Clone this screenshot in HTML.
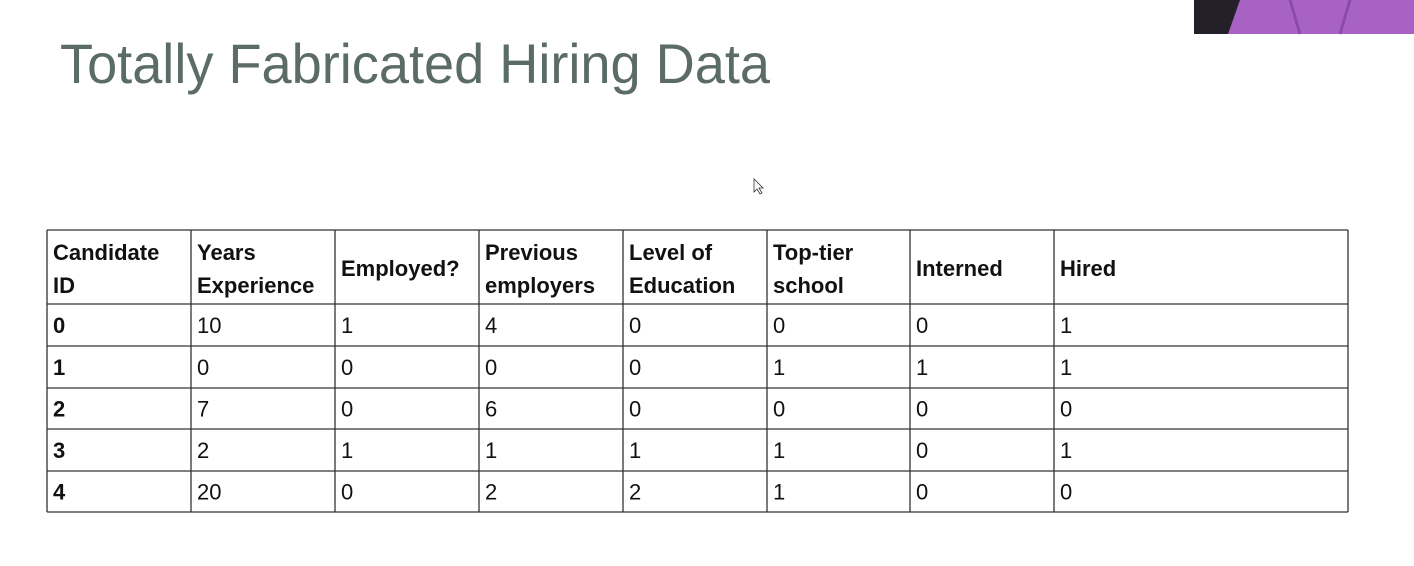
<!DOCTYPE html>
<html><head><meta charset="utf-8"><style>
html,body{margin:0;padding:0;background:#fff;}
svg{display:block;font-family:"Liberation Sans",sans-serif;}
</style></head><body>
<svg width="1414" height="566" viewBox="0 0 1414 566">
<rect x="0" y="0" width="1414" height="566" fill="#ffffff"/>
<g>
<rect x="1194" y="0" width="220" height="34" fill="#241f28"/>
<path d="M1228 34 L1240 0 L1414 0 L1414 34 Z" fill="#a862c4"/>
<path d="M1290 0 L1300 34 M1350 0 L1340 34" stroke="#8a4aa8" stroke-width="3"/>
</g>
<text x="60" y="83" font-size="56" fill="#5b6b66" textLength="710" lengthAdjust="spacingAndGlyphs">Totally Fabricated Hiring Data</text>
<path d="M754 179 L754 192 L757 189 L760 194 L762 193 L759 188 L763 188 Z" fill="#fff" stroke="#333" stroke-width="0.8"/>
<g id="tbl"></g>
</svg>
<script>
const headers=[["Candidate","ID"],["Years","Experience"],["Employed?"],["Previous","employers"],["Level of","Education"],["Top-tier","school"],["Interned"],["Hired"]];
const rows=[["0","10","1","4","0","0","0","1"],["1","0","0","0","0","1","1","1"],["2","7","0","6","0","0","0","0"],["3","2","1","1","1","1","0","1"],["4","20","0","2","2","1","0","0"]];
const colX=[47,191,335,479,623,767,910,1054,1348];
const rowY=[230,304,346,388,429,471,512];
const ns="http://www.w3.org/2000/svg";
const g=document.getElementById('tbl');
function txt(x,y,s,bold,name){const t=document.createElementNS(ns,'text');t.setAttribute('x',x);t.setAttribute('y',y);t.setAttribute('font-size','22');if(bold)t.setAttribute('font-weight','bold');t.setAttribute('fill','#111');t.textContent=s;


g.appendChild(t);}
headers.forEach((h,i)=>{
  if(h.length===2){txt(colX[i]+6,260,h[0],true,'header-cell');txt(colX[i]+6,293,h[1],true,'header-cell');}
  else txt(colX[i]+6,276,h[0],true,'header-cell');
});
rows.forEach((r,ri)=>{
  const y=(rowY[ri+1]+rowY[ri+2])/2+8;
  r.forEach((v,ci)=>txt(colX[ci]+6,y,v,ci===0,'table-cell'));
});
colX.forEach(x=>{const l=document.createElementNS(ns,'line');l.setAttribute('x1',x);l.setAttribute('x2',x);l.setAttribute('y1',rowY[0]);l.setAttribute('y2',rowY[rowY.length-1]);l.setAttribute('stroke','#333');l.setAttribute('stroke-width','1.3');


g.appendChild(l);});
rowY.forEach(y=>{const l=document.createElementNS(ns,'line');l.setAttribute('x1',colX[0]);l.setAttribute('x2',colX[colX.length-1]);l.setAttribute('y1',y);l.setAttribute('y2',y);l.setAttribute('stroke','#333');l.setAttribute('stroke-width','1.3');


g.appendChild(l);});
</script>
</body></html>
